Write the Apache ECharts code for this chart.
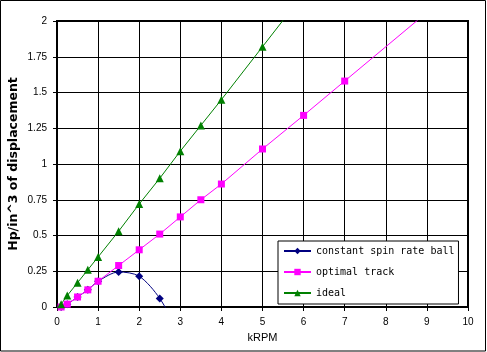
<!DOCTYPE html>
<html>
<head>
<meta charset="utf-8">
<script src="https://cdn.jsdelivr.net/npm/echarts@6/dist/echarts.min.js"></script>
<style>
html,body{margin:0;padding:0;background:#fff;}
#chart{width:487px;height:352px;}
</style>
</head>
<body>
<div id="chart"></div>
<script>
var seriesNames = ['constant spin rate ball', 'optimal track', 'ideal'];
var spinX = [0.1, 0.25, 0.5, 0.75, 1, 1.5, 2, 2.5, 3];
var spinY = [0, 0.02, 0.07, 0.12, 0.18, 0.245, 0.215, 0.06, -0.2];
var optX = [0.1, 0.25, 0.5, 0.75, 1, 1.5, 2, 2.5, 3, 3.5, 4, 5, 6, 7, 10];
var optY = [0, 0.02, 0.07, 0.12, 0.18, 0.29, 0.40, 0.51, 0.63, 0.75, 0.86, 1.105, 1.34, 1.58, 2.30];
var idealX = [0.1, 0.25, 0.5, 0.75, 1, 1.5, 2, 2.5, 3, 3.5, 4, 5, 6];
var idealY = [0.02, 0.08, 0.17, 0.26, 0.35, 0.53, 0.72, 0.90, 1.09, 1.27, 1.45, 1.82, 2.19];
var xTickLabels = ['0','1','2','3','4','5','6','7','8','9','10'];
var yTickLabels = ['0','0.25','0.5','0.75','1','1.25','1.5','1.75','2'];

function pairs(xs, ys){ return xs.map(function(x,i){return [x, ys[i]];}); }

var chart = echarts.init(document.getElementById('chart'), null, {renderer:'canvas'});
var labelFont = {color:'#000', fontFamily:'Liberation Sans', fontSize:10};
chart.setOption({
  animation:false,
  backgroundColor:'#fff',
  graphic:[{type:'rect', shape:{x:0.5,y:0.5,width:485,height:350.5}, style:{fill:'none', stroke:'#000', lineWidth:1}, silent:true, z:100}],
  grid:{left:57, top:21, right:19, bottom:45, containLabel:false, outerBoundsMode:'none', show:true, borderColor:'#000', borderWidth:2, backgroundColor:'#fff'},
  xAxis:{
    type:'value', min:0, max:10, interval:1,
    name:'kRPM', nameLocation:'middle', nameGap:25, nameMoveOverlap:false,
    nameTextStyle:{color:'#000', fontFamily:'Liberation Sans', fontSize:11},
    axisLine:{show:true, onZero:false, lineStyle:{color:'#000', width:2}},
    axisTick:{show:true, length:4, lineStyle:{color:'#000', width:1}},
    axisLabel:Object.assign({margin:10, formatter:function(v){return xTickLabels[Math.round(v)];}}, labelFont),
    splitLine:{show:true, lineStyle:{color:'#000', width:1}}
  },
  yAxis:{
    type:'value', min:0, max:2, interval:0.25,
    name:'Hp/in^3 of displacement', nameLocation:'middle', nameGap:37, nameRotate:90, nameMoveOverlap:false,
    nameTextStyle:{color:'#000', fontFamily:'DejaVu Sans', fontWeight:'bold', fontSize:12.5},
    axisLine:{show:true, onZero:false, lineStyle:{color:'#000', width:2}},
    axisTick:{show:true, length:4, lineStyle:{color:'#000', width:1}},
    axisLabel:Object.assign({margin:10, formatter:function(v){return yTickLabels[Math.round(v/0.25)];}}, labelFont),
    splitLine:{show:true, lineStyle:{color:'#000', width:1}}
  },
  legend:{
    orient:'vertical', left:278, top:241, width:179,
    backgroundColor:'#fff', borderColor:'#000', borderWidth:1,
    padding:[5,4,6,5], itemWidth:27, itemHeight:8, itemGap:11,
    textStyle:{color:'#000', fontFamily:'DejaVu Sans Mono', fontSize:10, padding:[0,0,0,0]},
    data:seriesNames
  },
  series:[
    {name:seriesNames[0], type:'line', data:pairs(spinX, spinY), smooth:0.3, clip:true,
     symbol:'diamond', symbolSize:8, color:'#000080', lineStyle:{width:1, color:'#000080'}, itemStyle:{color:'#000080'}},
    {name:seriesNames[1], type:'line', data:pairs(optX, optY), clip:true,
     symbol:'rect', symbolSize:7, color:'#ff00ff', lineStyle:{width:1, color:'#ff00ff'}, itemStyle:{color:'#ff00ff'}},
    {name:seriesNames[2], type:'line', data:pairs(idealX, idealY), clip:true,
     symbol:'triangle', symbolSize:8, color:'#008000', lineStyle:{width:1, color:'#008000'}, itemStyle:{color:'#008000'}}
  ]
});
</script>
</body>
</html>
